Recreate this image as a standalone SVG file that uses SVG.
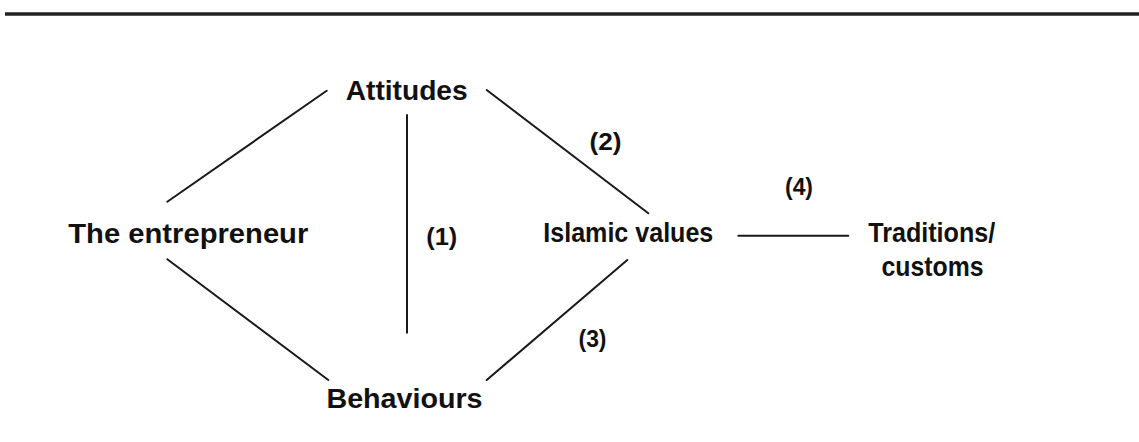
<svg xmlns="http://www.w3.org/2000/svg" width="1139" height="442" viewBox="0 0 1139 442">
<style>
.t{font-family:"Liberation Sans",Arial,sans-serif;font-weight:bold;fill:#111;text-anchor:middle;font-size:28px}
.n{font-size:24px}
.c line{stroke:#1a1a1a;stroke-width:2;stroke-linecap:round}
</style>
<rect width="1139" height="442" fill="#fff"/>
<line x1="5" y1="14" x2="1139" y2="14" stroke="#222" stroke-width="3.5"/>
<g id="attitudes"><text class="t" x="406.7" y="100" textLength="122" lengthAdjust="spacingAndGlyphs">Attitudes</text></g>
<g id="entrepreneur"><text class="t" x="188.3" y="242.7" textLength="240" lengthAdjust="spacingAndGlyphs">The entrepreneur</text></g>
<g id="behaviours"><text class="t" x="404.5" y="408.3" textLength="156" lengthAdjust="spacingAndGlyphs">Behaviours</text></g>
<g id="islamic"><text class="t" x="628.3" y="241.7" textLength="170" lengthAdjust="spacingAndGlyphs">Islamic values</text></g>
<g id="traditions"><text class="t" x="931.7" y="241.7" textLength="127" lengthAdjust="spacingAndGlyphs">Traditions/</text><text class="t" x="932.5" y="276" textLength="102" lengthAdjust="spacingAndGlyphs">customs</text></g>
<g class="c" id="connectors">
<line x1="326.7" y1="90.7" x2="167.3" y2="201.7"/>
<line x1="407" y1="115" x2="407" y2="332.7"/>
<line x1="486.7" y1="90" x2="648.3" y2="213.3"/>
<line x1="167.3" y1="259.3" x2="328.3" y2="380"/>
<line x1="627.3" y1="260" x2="486.7" y2="380"/>
<line x1="738.3" y1="235.7" x2="848.3" y2="235.7"/>
</g>
<g id="labels">
<text class="t n" x="441.7" y="245" textLength="31" lengthAdjust="spacingAndGlyphs">(1)</text>
<text class="t n" x="605.5" y="150" textLength="32" lengthAdjust="spacingAndGlyphs">(2)</text>
<text class="t n" x="592.5" y="346.7" textLength="28" lengthAdjust="spacingAndGlyphs">(3)</text>
<text class="t n" x="799" y="195" textLength="28" lengthAdjust="spacingAndGlyphs">(4)</text>
</g>
</svg>
